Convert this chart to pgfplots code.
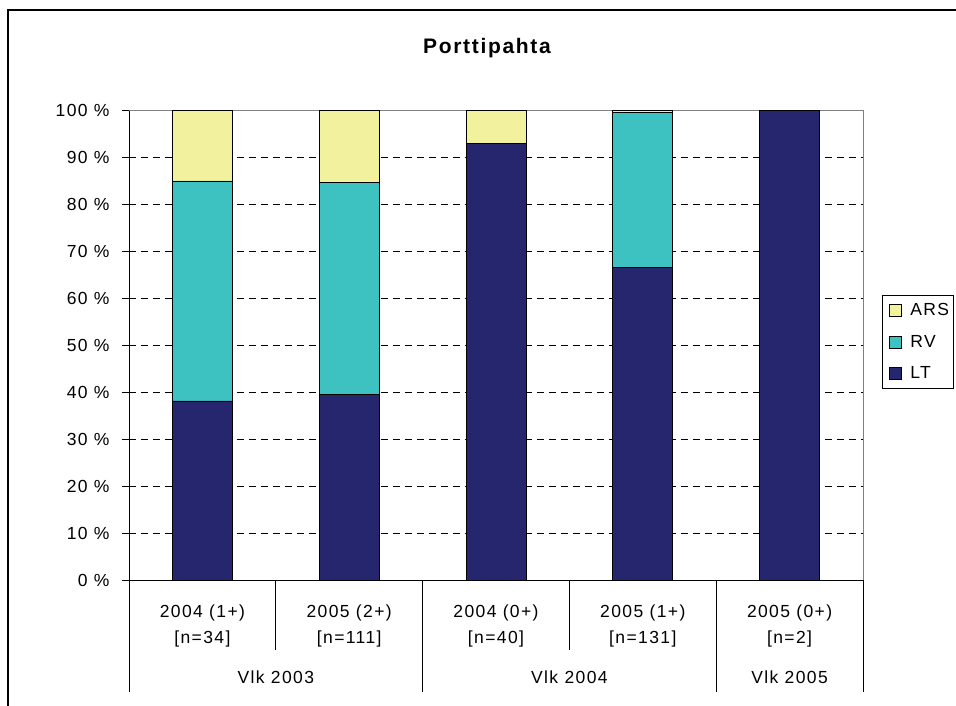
\documentclass[border=0pt]{standalone}
\usepackage{fontspec}
\setmainfont{Liberation Sans}[LetterSpace=8]
\usepackage{pgfplots}
\pgfplotsset{compat=1.18}
\definecolor{cLT}{RGB}{38,38,110}
\definecolor{cRV}{RGB}{62,193,193}
\definecolor{cARS}{RGB}{242,242,158}
\begin{document}
\begin{tikzpicture}[x=1pt,y=1pt]
\useasboundingbox (0,0) rectangle (956,-706);
\draw[line width=1.2pt] (8,-10) rectangle (1000,-760);
\node[font=\fontsize{21}{24}\selectfont\bfseries] at (487,-48) {Porttipahta};
\begin{axis}[
  at={(129pt,-580pt)}, anchor=south west,
  scale only axis, width=734pt, height=470pt,
  xmin=-0.5, xmax=4.5, ymin=0, ymax=100,
  ybar stacked, bar width=60pt,
  axis line style={draw=none},
  ytick={0,10,...,100},
  yticklabel={\pgfmathprintnumber[assume math mode=true]{\tick}~\%},
  yticklabel style={font=\fontsize{17.5}{20}\selectfont, xshift=-16pt},
  ytick style={draw=none},
  xtick={0,1,2,3,4},
  xticklabels={{2004 (1+)\\{[n=34]}},{2005 (2+)\\{[n=111]}},{2004 (0+)\\{[n=40]}},{2005 (1+)\\{[n=131]}},{2005 (0+)\\{[n=2]}}},
  xticklabel style={font=\fontsize{17.5}{26}\selectfont, align=center, anchor=north, yshift=-21pt},
  xtick style={draw=none},
  ymajorgrids, grid style={black, line width=0.7pt, dash pattern=on 7pt off 5pt},
  clip=false,
  legend style={at={(1.0259,0.606)}, anchor=north west, draw=black, line width=0.7pt,
    font=\fontsize{17.5}{20}\selectfont, inner xsep=2pt, inner ysep=6pt, row sep=14pt,
    cells={anchor=west}},
  legend image code/.code={\path[draw=none,fill=none] (0pt,-6pt) rectangle (24pt,6pt);\draw[#1, draw=black, line width=0.6pt] (5pt,-6pt) rectangle (17pt,6pt);},
  reverse legend,
]
\addplot[fill=cLT, draw=black, line width=0.7pt] coordinates {(0,38.1) (1,39.4) (2,92.8) (3,66.5) (4,100)};
\addplot[fill=cRV, draw=black, line width=0.7pt] coordinates {(0,46.8) (1,45.2) (2,0) (3,32.9) (4,0)};
\addplot[fill=cARS, draw=black, line width=0.7pt] coordinates {(0,15.1) (1,15.4) (2,7.2) (3,0.6) (4,0)};
\legend{LT,RV,ARS}
% frame of plot area
\draw[gray, line width=0.8pt] (axis cs:-0.5,100) -- (axis cs:4.5,100) -- (axis cs:4.5,0);
\draw[black, line width=0.8pt] (axis cs:-0.5,100) -- (axis cs:-0.5,0) -- (axis cs:4.5,0);
\pgfplotsinvokeforeach{0,10,...,100}{\draw[black, line width=0.8pt] (axis cs:-0.5,#1) -- ([xshift=-7pt]axis cs:-0.5,#1);}
% category separators
\pgfplotsinvokeforeach{-0.5,1.5,3.5,4.5}{\draw[black, line width=0.8pt] (axis cs:#1,0) -- ([yshift=-112pt]axis cs:#1,0);}
\pgfplotsinvokeforeach{0.5,2.5}{\draw[black, line width=0.8pt] (axis cs:#1,0) -- ([yshift=-70pt]axis cs:#1,0);}
\node[font=\fontsize{17.5}{20}\selectfont] at ([yshift=-97pt]axis cs:0.5,0) {Vlk 2003};
\node[font=\fontsize{17.5}{20}\selectfont] at ([yshift=-97pt]axis cs:2.5,0) {Vlk 2004};
\node[font=\fontsize{17.5}{20}\selectfont] at ([yshift=-97pt]axis cs:4,0) {Vlk 2005};
\end{axis}
\end{tikzpicture}
\end{document}
